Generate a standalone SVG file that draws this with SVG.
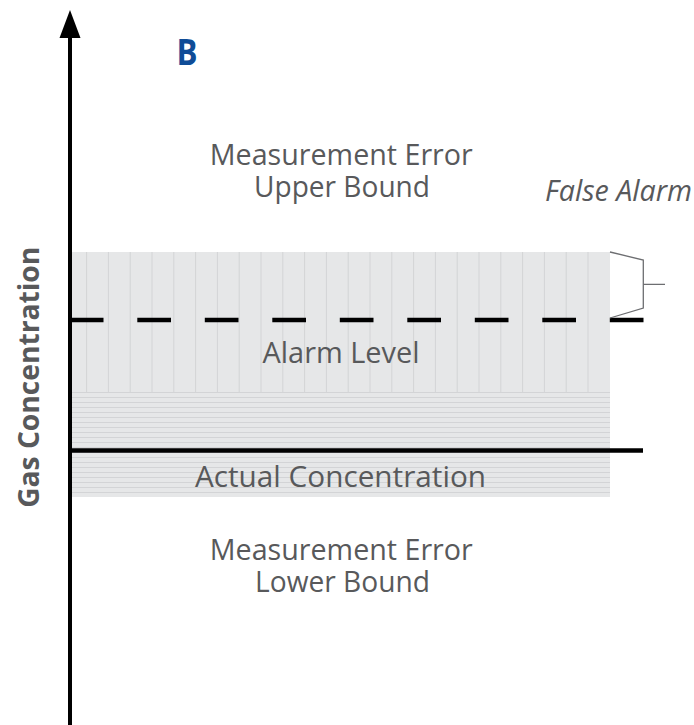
<svg xmlns="http://www.w3.org/2000/svg" width="694" height="725" viewBox="0 0 694 725">
<style>
.t{font-family:"Open Sans","Noto Sans","Liberation Sans",sans-serif;font-size:29px;fill:#58595b;}
.c{text-anchor:middle;}
.grid{stroke:#d3d4d6;stroke-width:1;fill:none;}
</style>
<rect width="694" height="725" fill="#ffffff"/>
<g id="band">
<rect x="72" y="252" width="538" height="245" fill="#e6e7e8"/>
<path class="grid" d="M86.6 252V392M108.4 252V392M130.2 252V392M152 252V392M173.8 252V392M195.6 252V392M217.4 252V392M239.2 252V392M261 252V392M282.8 252V392M304.6 252V392M326.4 252V392M348.2 252V392M370 252V392M391.8 252V392M413.6 252V392M435.4 252V392M457.2 252V392M479 252V392M500.8 252V392M522.6 252V392M544.4 252V392M566.2 252V392M588 252V392"/>
<path class="grid" d="M72 392.5H610M72 397.5H610M72 402.5H610M72 407.5H610M72 412.5H610M72 417.5H610M72 422.5H610M72 427.5H610M72 432.5H610M72 437.5H610M72 442.5H610M72 447.5H610M72 452.5H610M72 457.5H610M72 462.5H610M72 467.5H610M72 472.5H610M72 477.5H610M72 482.5H610M72 487.5H610M72 492.5H610"/>
</g>
<g id="connectors">
<line x1="70" y1="36" x2="70" y2="725" stroke="#000" stroke-width="4"/>
<polygon points="70,10 59.5,38 80.5,38" fill="#000"/>
<line x1="69.8" y1="320" x2="643.8" y2="320" stroke="#000" stroke-width="4.5" stroke-dasharray="33.7 33.8"/>
<line x1="70" y1="450.5" x2="643" y2="450.5" stroke="#000" stroke-width="4.5"/>
<path d="M610 252L643.3 260V308L610 318M643.3 284.3H665" fill="none" stroke="#6d6e71" stroke-width="1.3"/>
</g>
<g id="label-b"><text x="176.5" y="65" font-family="'Open Sans','Noto Sans',sans-serif" font-weight="bold" font-size="36" fill="#0f4c97" textLength="21" lengthAdjust="spacingAndGlyphs">B</text></g>
<g id="upper-bound">
<text class="t c"><tspan x="341.3" y="165" textLength="263" lengthAdjust="spacingAndGlyphs">Measurement Error</tspan><tspan x="342" y="197" textLength="176" lengthAdjust="spacingAndGlyphs">Upper Bound</tspan></text>
</g>
<g id="false-alarm"><text class="t" x="545" y="201" font-style="italic" textLength="147" lengthAdjust="spacingAndGlyphs">False Alarm</text></g>
<g id="alarm-level"><text class="t c" x="341" y="362.7" textLength="157" lengthAdjust="spacingAndGlyphs">Alarm Level</text></g>
<g id="actual-concentration"><text class="t c" x="340.5" y="486.7" textLength="291" lengthAdjust="spacingAndGlyphs">Actual Concentration</text></g>
<g id="lower-bound">
<text class="t c"><tspan x="341.3" y="560" textLength="263" lengthAdjust="spacingAndGlyphs">Measurement Error</tspan><tspan x="342.5" y="592" textLength="175" lengthAdjust="spacingAndGlyphs">Lower Bound</tspan></text>
</g>
<g id="y-axis-label"><text class="t c" transform="translate(38.5,377.3) rotate(-90)" x="0" y="0" font-weight="bold" font-size="32" textLength="261" lengthAdjust="spacingAndGlyphs">Gas Concentration</text></g>
</svg>
